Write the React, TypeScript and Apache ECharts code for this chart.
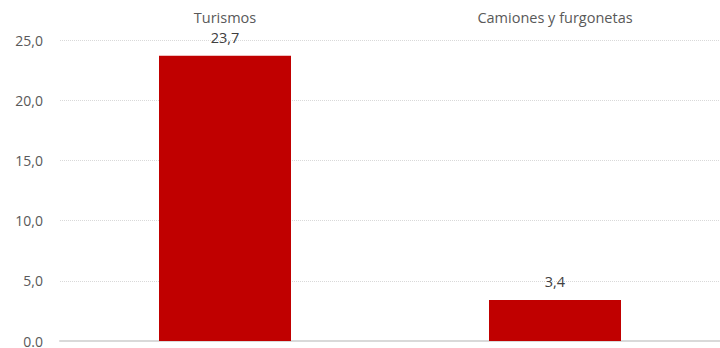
import React, { useEffect, useRef } from "react";
import * as echarts from "echarts";

const categories = ["Turismos", "Camiones y furgonetas"];
const values = [23.7, 3.4];
const yTicks = [0, 5, 10, 15, 20, 25];

const fmt = (v: number) => (v === 0 ? "0.0" : v.toFixed(1).replace(".", ","));

export default function App() {
  const ref = useRef<HTMLDivElement>(null);
  useEffect(() => {
    if (!ref.current) return;
    const chart = echarts.init(ref.current, undefined, { renderer: "svg" });
    chart.setOption({
      animation: false,
      grid: { left: 60, right: 0, top: 40, bottom: 4 },
      xAxis: [
        {
          type: "category",
          data: categories,
          position: "top",
          axisLine: { show: false },
          axisTick: { show: false },
          axisLabel: {
            margin: 15,
            color: "#595959",
            fontSize: 14.5,
            fontFamily: "Open Sans",
          },
        },
        {
          type: "category",
          data: categories,
          position: "bottom",
          axisLine: { show: true, lineStyle: { color: "#d9d9d9", width: 2 } },
          axisTick: { show: false },
          axisLabel: { show: false },
        },
      ],
      yAxis: {
        type: "value",
        min: yTicks[0],
        max: yTicks[yTicks.length - 1],
        interval: 5,
        axisLine: { show: false },
        axisTick: { show: false },
        axisLabel: {
          margin: 17,
          color: "#595959",
          fontSize: 14,
          fontFamily: "Open Sans",
          formatter: (v: number) => fmt(v),
        },
        splitLine: { lineStyle: { color: "#d9d9d9", type: [1, 1], width: 1 } },
      },
      series: [
        {
          type: "bar",
          xAxisIndex: 0,
          data: values,
          barWidth: "40%",
          itemStyle: { color: "#C00000" },
          label: {
            show: true,
            position: "top",
            distance: 11,
            color: "#404040",
            fontSize: 14.5,
            fontFamily: "Open Sans",
            formatter: (p: any) => fmt(p.value),
          },
        },
      ],
    });
    return () => chart.dispose();
  }, []);
  return (
    <div
      ref={ref}
      style={{ position: "fixed", left: 0, top: 0, width: 720, height: 348, background: "#fff" }}
    />
  );
}
